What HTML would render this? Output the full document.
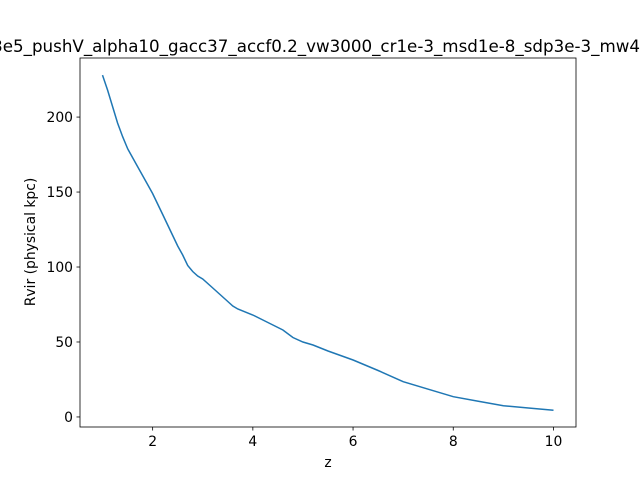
<!DOCTYPE html>
<html><head><meta charset="utf-8"><style>body{margin:0;background:#fff}svg{display:block;font-family:"DejaVu Sans","Liberation Sans",sans-serif}</style></head>
<body>
<svg id="chart" width="640" height="480">
<rect width="640" height="480" fill="#fff"/>
<text x="640" y="52" font-size="16.7" text-anchor="end">m3e5_pushV_alpha10_gacc37_accf0.2_vw3000_cr1e-3_msd1e-8_sdp3e-3_mw4</text>
<g id="axes"></g>
</svg>
<script>
const zValues=[1.0,1.1,1.2,1.3,1.4,1.5,1.7,1.9,2.0,2.2,2.4,2.5,2.6,2.7,2.8,2.9,3.0,3.2,3.4,3.5,3.6,3.7,4.0,4.3,4.6,4.8,5.0,5.2,5.5,6.0,6.5,7.0,7.5,8.0,8.5,9.0,9.5,10.0];
const rvirValues=[228,218,207,196,187,179,167,155,149,135,121,114,108,101,97,94,92,86,80,77,74,72,68,63,58,53,50,48,44,38,31,23.5,18.5,13.5,10.5,7.5,6,4.5];
const xTicks=[2,4,6,8,10];
const yTicks=[0,50,100,150,200];
const L=80,R=576,T=58,B=427;
const xmin=0.55,xmax=10.45,ymin=-6.7,ymax=239.4;
const sx=v=>L+(v-xmin)/(xmax-xmin)*(R-L);
const sy=v=>B-(v-ymin)/(ymax-ymin)*(B-T);
const NS="http://www.w3.org/2000/svg";
const g=document.getElementById('axes');
function mk(t,a){const e=document.createElementNS(NS,t);for(const k in a)e.setAttribute(k,a[k]);g.appendChild(e);return e;}
let d=zValues.map((z,i)=>(i?'L':'M')+sx(z).toFixed(1)+','+sy(rvirValues[i]).toFixed(1)).join('');
const line=mk('path',{d:d,fill:'none',stroke:'#1f77b4','stroke-width':1.5});


const frame=mk('rect',{x:L,y:T,width:R-L,height:B-T,fill:'none',stroke:'#000','stroke-width':0.8});


xTicks.forEach(v=>{const x=sx(v);mk('line',{x1:x,x2:x,y1:B,y2:B+3.5,stroke:'#000','stroke-width':0.8});
const t=mk('text',{x:x,y:B+19,'font-size':13.9,'text-anchor':'middle'});t.textContent=v;

});
yTicks.forEach(v=>{const y=sy(v);mk('line',{x1:L,x2:L-3.5,y1:y,y2:y,stroke:'#000','stroke-width':0.8});
const t=mk('text',{x:L-7,y:y+5,'font-size':13.9,'text-anchor':'end'});t.textContent=v;

});
const xl=mk('text',{x:328,y:467,'font-size':13.9,'text-anchor':'middle'});xl.textContent='z';


const yl=mk('text',{x:0,y:0,'font-size':13.9,'text-anchor':'middle',transform:'translate(35,242) rotate(-90)'});yl.textContent='Rvir (physical kpc)';


</script>
</body></html>
